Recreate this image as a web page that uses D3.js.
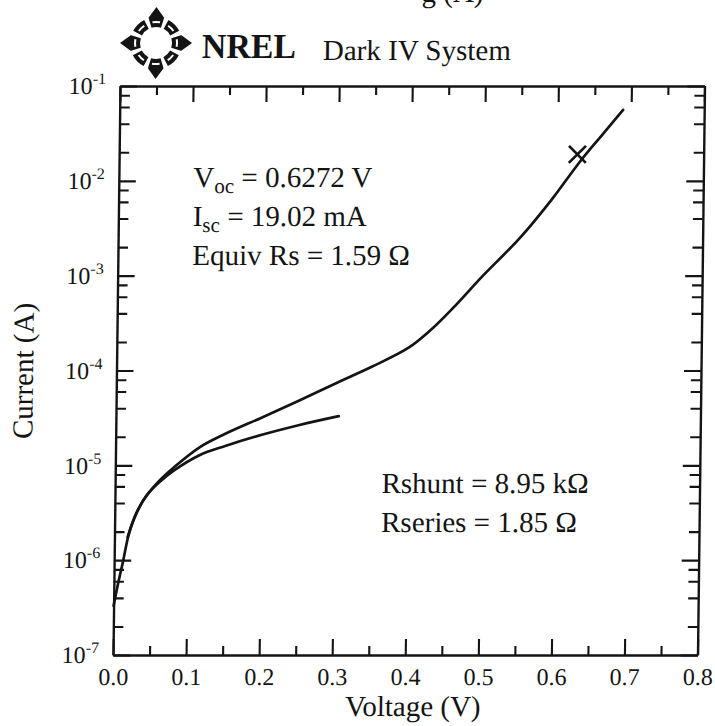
<!DOCTYPE html>
<html>
<head>
<meta charset="utf-8">
<script src="https://cdn.jsdelivr.net/npm/d3@7"></script>
<style>
  body { margin: 0; background: #fff; }
  svg { display: block; }
  text { font-family: "Liberation Serif", "Times New Roman", serif; fill: #141414; }
</style>
</head>
<body>
<svg id="chart" width="715" height="726"></svg>
<script>
// Voltage axis ticks
const voltageMajor = [0, 0.1, 0.2, 0.3, 0.4, 0.5, 0.6, 0.7, 0.8];
const voltageMinor = [0.05, 0.15, 0.25, 0.35, 0.45, 0.55, 0.65, 0.75];
const voltageLabels = ["0.0", "0.1", "0.2", "0.3", "0.4", "0.5", "0.6", "0.7", "0.8"];
// Current axis decades (exponents of ten) and minor multipliers
const decadeExponents = [-7, -6, -5, -4, -3, -2, -1];
const minorMultipliers = [2, 4, 6, 8];

// Measured dark I-V curve
const measuredV = [0.0, 0.006, 0.0125, 0.019, 0.0255, 0.039, 0.059, 0.08, 0.115, 0.15, 0.2, 0.25, 0.3, 0.35, 0.4, 0.43, 0.46, 0.5, 0.55, 0.5925, 0.631, 0.66, 0.689];
const measuredI = [3.3e-7, 5.8e-7, 1.0e-6, 1.8e-6, 2.6e-6, 4.3e-6, 6.7e-6, 9.5e-6, 1.55e-5, 2.15e-5, 3.2e-5, 4.8e-5, 7.3e-5, 1.1e-4, 1.75e-4, 2.7e-4, 4.6e-4, 1.0e-3, 2.5e-3, 6.3e-3, 1.6e-2, 3.0e-2, 5.6e-2];

// Two-diode model fit
const fitV = [0.018, 0.03, 0.045, 0.06, 0.08, 0.115, 0.15, 0.2, 0.25, 0.305];
const fitI = [1.75e-6, 3.2e-6, 5.0e-6, 6.6e-6, 8.8e-6, 1.28e-5, 1.6e-5, 2.1e-5, 2.65e-5, 3.3e-5];

// Open-circuit voltage / short-circuit current point
const vocV = 0.6272;
const iscA = 0.01902;

const svg = d3.select("#chart");
// the scanned page is slightly sheared: verticals lean right toward the top
const shear = -0.0123;
const root = svg.append("g").attr("transform", `matrix(1,0,${shear},1,${-shear * 370.5},0)`);

const x = d3.scaleLinear().domain([0, 0.8]).range([116.5, 701]);
const y = d3.scaleLog().domain([1e-7, 1e-1]).range([655, 86]);

const decades = decadeExponents.map(e => Math.pow(10, e));
const minorCurrents = [];
decadeExponents.slice(0, -1).forEach(e => minorMultipliers.forEach(m => minorCurrents.push(m * Math.pow(10, e))));

const ink = "#141414";
const axisStyle = g => {
  g.selectAll("path.domain").attr("stroke", ink).attr("stroke-width", 2.4);
  g.selectAll(".tick line").attr("stroke", ink).attr("stroke-width", 2.1);
};

// bottom axis with labels
root.append("g").attr("transform", `translate(0,${y.range()[0]})`)
  .call(d3.axisBottom(x).tickValues(voltageMajor).tickSizeInner(-16).tickSizeOuter(0).tickPadding(13)
    .tickFormat((d, i) => voltageLabels[i]))
  .call(axisStyle)
  .call(g => g.selectAll("text").attr("font-size", 24).attr("font-family", "Liberation Serif, serif").attr("fill", ink));
root.append("g").attr("transform", `translate(0,${y.range()[0]})`)
  .call(d3.axisBottom(x).tickValues(voltageMinor).tickSizeInner(-9).tickSizeOuter(0).tickFormat(""))
  .call(axisStyle).call(g => g.select(".domain").remove());

// top axis
root.append("g").attr("transform", `translate(0,${y.range()[1]})`)
  .call(d3.axisTop(x).tickValues(voltageMajor).tickSizeInner(-16).tickSizeOuter(0).tickFormat(""))
  .call(axisStyle);
root.append("g").attr("transform", `translate(0,${y.range()[1]})`)
  .call(d3.axisTop(x).tickValues(voltageMinor).tickSizeInner(-9).tickSizeOuter(0).tickFormat(""))
  .call(axisStyle).call(g => g.select(".domain").remove());

// left axis with power-of-ten labels
const leftAxis = root.append("g").attr("transform", `translate(${x.range()[0]},0)`)
  .call(d3.axisLeft(y).tickValues(decades).tickSizeInner(-17).tickSizeOuter(0).tickPadding(14).tickFormat(() => ""))
  .call(axisStyle);
leftAxis.selectAll(".tick text").each(function (d) {
  const t = d3.select(this).attr("font-size", 24).attr("font-family", "Liberation Serif, serif").attr("fill", ink);
  t.append("tspan").text("10");
  t.append("tspan").attr("font-size", 16).attr("dy", -10).text(String(Math.round(Math.log10(d))));
});
root.append("g").attr("transform", `translate(${x.range()[0]},0)`)
  .call(d3.axisLeft(y).tickValues(minorCurrents).tickSizeInner(-10).tickSizeOuter(0).tickFormat(""))
  .call(axisStyle).call(g => g.select(".domain").remove());

// right axis
root.append("g").attr("transform", `translate(${x.range()[1]},0)`)
  .call(d3.axisRight(y).tickValues(decades).tickSizeInner(-17).tickSizeOuter(0).tickFormat(""))
  .call(axisStyle);
root.append("g").attr("transform", `translate(${x.range()[1]},0)`)
  .call(d3.axisRight(y).tickValues(minorCurrents).tickSizeInner(-10).tickSizeOuter(0).tickFormat(""))
  .call(axisStyle).call(g => g.select(".domain").remove());

// axis titles
root.append("text").attr("x", 417).attr("y", 716).attr("text-anchor", "middle")
  .attr("font-size", 29).text("Voltage (V)");
root.append("text").attr("transform", "translate(33,371) rotate(-90)").attr("text-anchor", "middle")
  .attr("font-size", 29).text("Current (A)");

// curves
const line = d3.line().x(d => x(d[0])).y(d => y(d[1])).curve(d3.curveCatmullRom.alpha(0.5));
root.append("path").datum(measuredV.map((v, i) => [v, measuredI[i]]))
  .attr("d", line).attr("fill", "none").attr("stroke", ink).attr("stroke-width", 2.7).attr("stroke-linecap", "round");
root.append("path").datum(fitV.map((v, i) => [v, fitI[i]]))
  .attr("d", line).attr("fill", "none").attr("stroke", ink).attr("stroke-width", 2.7).attr("stroke-linecap", "round");

// Voc / Isc cross
const cx = x(vocV), cy = y(iscA), h = 8.5;
root.append("path")
  .attr("d", `M${cx - h},${cy - h}L${cx + h},${cy + h}M${cx - h},${cy + h}L${cx + h},${cy - h}`)
  .attr("stroke", ink).attr("stroke-width", 2.7).attr("fill", "none");

// parameter annotations
const note = (tx, ty, parts) => {
  const t = root.append("text").attr("x", tx).attr("y", ty).attr("font-size", 29);
  parts.forEach(p => {
    const s = t.append("tspan").text(p.text);
    if (p.size) s.attr("font-size", p.size);
    if (p.dy) s.attr("dy", p.dy);
  });
};
note(191, 187, [{ text: "V" }, { text: "oc", size: 21, dy: 6 }, { text: " = 0.6272 V", dy: -6 }]);
note(191, 226, [{ text: "I" }, { text: "sc", size: 21, dy: 6 }, { text: " = 19.02 mA", dy: -6 }]);
note(191, 265, [{ text: "Equiv Rs = 1.59 \u03A9" }]);
note(383, 493, [{ text: "Rshunt = 8.95 k\u03A9" }]);
note(383, 532, [{ text: "Rseries = 1.85 \u03A9" }]);

// header: caption tail, NREL logo and system name
root.append("text").attr("x", 479).attr("y", 2).attr("text-anchor", "end").attr("font-size", 29).text("g (A)");

const logo = root.append("g").attr("transform", "translate(152,43)");
const arc = d3.arc().innerRadius(16).outerRadius(26);
d3.range(8).forEach(k => {
  const a = k * Math.PI / 4;
  logo.append("path")
    .attr("d", arc({ startAngle: a - 0.3, endAngle: a + 0.3 }))
    .attr("fill", ink);
  logo.append("path")
    .attr("d", d3.arc().innerRadius(20).outerRadius(22)({ startAngle: a - 0.18, endAngle: a + 0.18 }))
    .attr("fill", "#fff");
  if (k % 2 === 0) {
    const ux = Math.sin(a), uy = -Math.cos(a), px = -uy, py = ux;
    const b = 25, tip = 36, w = 8;
    logo.append("path")
      .attr("d", `M${ux * b + px * w},${uy * b + py * w}L${ux * tip},${uy * tip}L${ux * b - px * w},${uy * b - py * w}Z`)
      .attr("fill", ink);
  }
});

root.append("text").attr("x", 198).attr("y", 58)
  .attr("font-family", "DejaVu Sans, sans-serif").attr("font-weight", "bold").attr("font-size", 35)
  .attr("textLength", 94).attr("lengthAdjust", "spacingAndGlyphs").text("NREL");
root.append("text").attr("x", 319).attr("y", 60).attr("font-size", 29).text("Dark IV System");
</script>
</body>
</html>
